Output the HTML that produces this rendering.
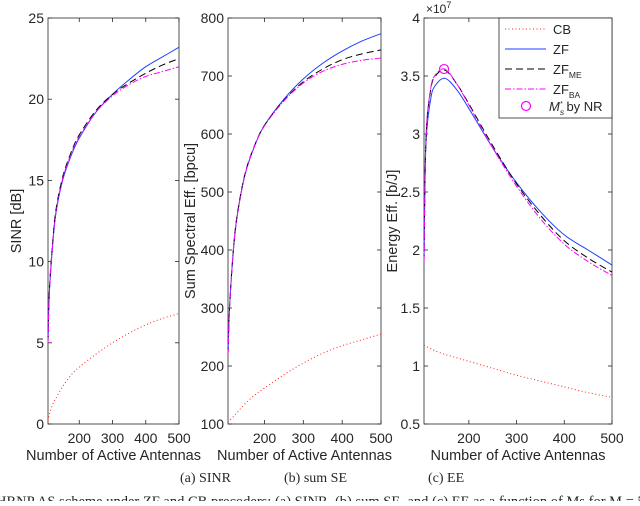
<!DOCTYPE html>
<html><head><meta charset="utf-8"><style>
body{margin:0;background:#fff;}
svg text{font-family:"Liberation Sans",sans-serif;fill:#262626;}
</style></head><body>
<svg width="640" height="501" viewBox="0 0 640 501" xmlns="http://www.w3.org/2000/svg" id="fig">
</svg>
<script>
const mVals=[106,110,120,130,150,175,200,250,300,350,400,450,500];
const sinrZF=[5,8,11,13,15,16.5,17.6,19.2,20.3,21.2,22,22.6,23.2];
const sinrME=[5,8.2,11.2,13.2,15.2,16.7,17.8,19.3,20.3,21.0,21.6,22.1,22.5];
const sinrBA=[5,8.1,11.1,13.1,15.1,16.6,17.7,19.2,20.2,20.9,21.4,21.7,22.0];
const sinrCB=[0.2,0.6,1.2,1.6,2.3,3.0,3.5,4.3,5.0,5.6,6.1,6.5,6.8];
const seZF=[220,300,400,460,530,580,615,660,695,722,743,760,773];
const seME=[220,302,402,462,532,581,615,658,690,712,728,738,745];
const seBA=[220,301,401,461,531,580,614,657,688,708,720,727,731];
const seCB=[103,106,113,120,135,150,162,185,205,222,235,245,255];
const eeZF=[1.9,2.9,3.3,3.42,3.48,3.38,3.22,2.88,2.58,2.33,2.13,2.0,1.87];
const eeME=[1.9,2.95,3.38,3.5,3.55,3.43,3.26,2.9,2.57,2.3,2.08,1.93,1.81];
const eeBA=[1.9,2.96,3.39,3.51,3.56,3.43,3.25,2.88,2.55,2.27,2.05,1.9,1.78];
const eeCB=[1.18,1.17,1.15,1.13,1.10,1.07,1.04,0.98,0.92,0.87,0.82,0.77,0.73];
const xTicks=[200,300,400,500];
const sinrTicks=[0,5,10,15,20,25];
const seTicks=[100,200,300,400,500,600,700,800];
const eeTicks=[0.5,1,1.5,2,2.5,3,3.5,4];
const eeOpt=[148,3.56];
const NS='http://www.w3.org/2000/svg';
const svg=document.getElementById('fig');
function mk(tag,attrs,parent){const e=document.createElementNS(NS,tag);for(const k in attrs)e.setAttribute(k,attrs[k]);(parent||svg).appendChild(e);return e;}
function smooth(pts){
  let d='M'+pts[0][0].toFixed(2)+','+pts[0][1].toFixed(2);
  for(let i=0;i<pts.length-1;i++){
    const p0=pts[Math.max(0,i-1)],p1=pts[i],p2=pts[i+1],p3=pts[Math.min(pts.length-1,i+2)];
    const c1=[p1[0]+(p2[0]-p0[0])/6,p1[1]+(p2[1]-p0[1])/6];
    const c2=[p2[0]-(p3[0]-p1[0])/6,p2[1]-(p3[1]-p1[1])/6];
    // clamp control x to keep monotone in x
    c1[0]=Math.min(Math.max(c1[0],p1[0]),p2[0]);c2[0]=Math.min(Math.max(c2[0],p1[0]),p2[0]);
    d+='C'+c1.map(v=>v.toFixed(2)).join(',')+' '+c2.map(v=>v.toFixed(2)).join(',')+' '+p2[0].toFixed(2)+','+p2[1].toFixed(2);
  }
  return d;
}
const T=18,B=424,XMIN=106,XMAX=500;
function panel(name,L,R,ymin,ymax,yt,series,ylab,ylabX){
  const g=mk('g',{});
  
  
  const sx=v=>L+(v-XMIN)/(XMAX-XMIN)*(R-L);
  const sy=v=>B-(v-ymin)/(ymax-ymin)*(B-T);
  const box=mk('rect',{x:L,y:T,width:R-L,height:B-T,fill:'#fff',stroke:'#262626','stroke-width':0.8},g);
  
  
  xTicks.forEach(t=>{const x=sx(t);
    mk('line',{x1:x,x2:x,y1:B,y2:B-4,stroke:'#262626','stroke-width':0.8},g);
    mk('line',{x1:x,x2:x,y1:T,y2:T+4,stroke:'#262626','stroke-width':0.8},g);
    const tx=mk('text',{x:x,y:B+19,'font-size':14,'text-anchor':'middle'},g);tx.textContent=t;
    
    
  });
  yt.forEach(t=>{const y=sy(t);
    mk('line',{x1:L,x2:L+4,y1:y,y2:y,stroke:'#262626','stroke-width':0.8},g);
    mk('line',{x1:R,x2:R-4,y1:y,y2:y,stroke:'#262626','stroke-width':0.8},g);
    const tx=mk('text',{x:L-4,y:y+5,'font-size':14,'text-anchor':'end'},g);tx.textContent=t;
    
    
  });
  series.forEach(s=>{
    const d=smooth(mVals.map((m,i)=>[sx(m),sy(s.v[i])]));
    const p=mk('path',{d:d,fill:'none',stroke:s.c,'stroke-width':1,'stroke-dasharray':s.da||'none'},g);
    
    
  });
  const xl=mk('text',{x:(L+R)/2,y:460,'font-size':14.5,'text-anchor':'middle'},g);xl.textContent='Number of Active Antennas';
  
  
  const yl=mk('text',{x:0,y:0,'font-size':14.5,'text-anchor':'middle',transform:`translate(${ylabX},${(T+B)/2}) rotate(-90)`},g);yl.textContent=ylab;
  
  
  return {sx,sy,g};
}
const cbS={c:'#ff2020',da:'1,2.5'},zfS={c:'#1f3fff'},meS={c:'#000',da:'7,4'},baS={c:'#ff00ff',da:'6,2,1.5,2'};
panel('sinr-panel',48,179,0,25,sinrTicks,[Object.assign({n:'cb-line',v:sinrCB},cbS),Object.assign({n:'zf-line',v:sinrZF},zfS),Object.assign({n:'zf-me-line',v:sinrME},meS),Object.assign({n:'zf-ba-line',v:sinrBA},baS)],'SINR [dB]',21);
panel('se-panel',228,381,100,800,seTicks,[Object.assign({n:'cb-line',v:seCB},cbS),Object.assign({n:'zf-line',v:seZF},zfS),Object.assign({n:'zf-me-line',v:seME},meS),Object.assign({n:'zf-ba-line',v:seBA},baS)],'Sum Spectral Eff. [bpcu]',195);
const p3=panel('ee-panel',424,612,0.5,4,eeTicks,[Object.assign({n:'cb-line',v:eeCB},cbS),Object.assign({n:'zf-line',v:eeZF},zfS),Object.assign({n:'zf-me-line',v:eeME},meS),Object.assign({n:'zf-ba-line',v:eeBA},baS)],'Energy Eff. [b/J]',397);
const oc=mk('circle',{cx:p3.sx(eeOpt[0]),cy:p3.sy(eeOpt[1]),r:4.5,fill:'none',stroke:'#ff00ff','stroke-width':1.2});


const ex=mk('text',{x:426,y:13,'font-size':12});ex.innerHTML='×10<tspan dy="-5" font-size="9">7</tspan>';


const lg=mk('g',{});


mk('rect',{x:499,y:18,width:113,height:100,fill:'#fff',stroke:'#262626','stroke-width':0.8},lg);
const items=[['CB',cbS,'legend-entry-cb'],['ZF',zfS,'legend-entry-zf'],['ZF|ME',meS,'legend-entry-zf-me'],['ZF|BA',baS,'legend-entry-zf-ba']];
items.forEach((it,i)=>{const y=29+i*20;
  const gi=mk('g',{},lg);
  
  
  mk('line',{x1:505,x2:546,y1:y,y2:y,stroke:it[1].c,'stroke-width':1,'stroke-dasharray':it[1].da||'none'},gi);
  const t=mk('text',{x:553,y:y+5,'font-size':13},gi);
  const parts=it[0].split('|');t.textContent=parts[0];
  if(parts[1]){const s=mk('tspan',{dy:4,'font-size':8.5},t);s.textContent=parts[1];}
});
const gm=mk('g',{},lg);


mk('circle',{cx:526,cy:106,r:4.5,fill:'none',stroke:'#ff00ff','stroke-width':1.2},gm);
const mt=mk('text',{x:549,y:111,'font-size':13},gm);
mt.innerHTML='<tspan font-style="italic">M</tspan><tspan dy="4" font-size="8.5" font-style="italic">s</tspan><tspan dy="-9" dx="-4" font-size="7">*</tspan><tspan dy="5"> by NR</tspan>';
[['(a) SINR',180],['(b) sum SE',284],['(c) EE',428]].forEach(c=>{
  const t=mk('text',{x:c[1],y:482,'font-size':14,style:'font-family:"Liberation Serif",serif'});t.textContent=c[0];
  
  
});
const fc=mk('text',{x:-4,y:506,'font-size':14.5,style:'font-family:"Liberation Serif",serif'});
fc.textContent='HRNP AS scheme under ZF and CB precoders: (a) SINR, (b) sum SE, and (c) EE as a function of Ms for M = 500';


</script>
</body></html>
